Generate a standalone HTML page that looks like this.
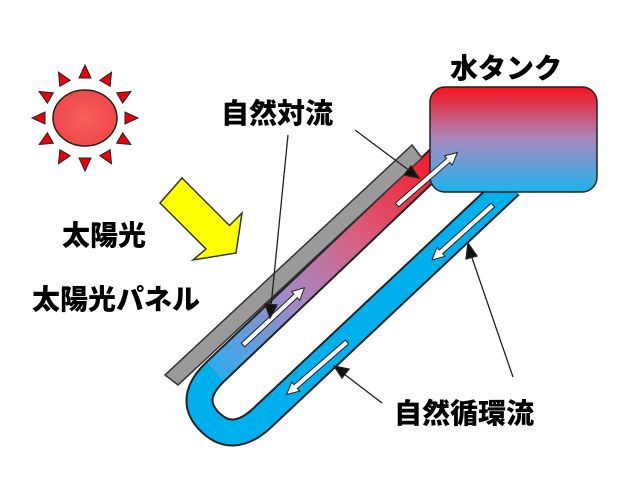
<!DOCTYPE html>
<html><head><meta charset="utf-8"><style>
html,body{margin:0;padding:0;background:#fff;}
svg{display:block;}
text{font-family:"Liberation Sans","Noto Sans CJK JP",sans-serif;font-weight:900;fill:#000;}
</style></head><body>
<svg width="640" height="480" viewBox="0 0 640 480" xmlns="http://www.w3.org/2000/svg">
<defs>
<linearGradient id="tg" x1="0" y1="0" x2="0" y2="1">
<stop offset="0" stop-color="#f8101c"/><stop offset="0.5" stop-color="#a88ac0"/><stop offset="1" stop-color="#1cb2ec"/>
</linearGradient>
<linearGradient id="ug" gradientUnits="userSpaceOnUse" x1="430" y1="160" x2="215" y2="375">
<stop offset="0" stop-color="#f41c2c"/><stop offset="0.35" stop-color="#d86080"/><stop offset="0.65" stop-color="#a08ac8"/><stop offset="1" stop-color="#2eacec"/>
</linearGradient>
<radialGradient id="sg"><stop offset="0" stop-color="#f86060"/><stop offset="1" stop-color="#f04848"/></radialGradient>
</defs>

<!-- sun -->
<g transform="translate(85,118)" fill="#e8000c" stroke="#222" stroke-width="1">
<g id="ray"><polygon points="-6,-40 6,-40 0,-53"/></g>
<use href="#ray" transform="rotate(30)"/><use href="#ray" transform="rotate(60)"/><use href="#ray" transform="rotate(90)"/>
<use href="#ray" transform="rotate(120)"/><use href="#ray" transform="rotate(150)"/><use href="#ray" transform="rotate(180)"/>
<use href="#ray" transform="rotate(210)"/><use href="#ray" transform="rotate(240)"/><use href="#ray" transform="rotate(270)"/>
<use href="#ray" transform="rotate(300)"/><use href="#ray" transform="rotate(330)"/>
<ellipse cx="0" cy="0" rx="32" ry="28" fill="url(#sg)" stroke="#222" stroke-width="1.5"/>
</g>

<!-- yellow arrow -->
<polygon points="182,178 229.5,225.5 242,213 236,253 193,260 206,249 160,203" fill="#ffff00" stroke="#333" stroke-width="1.5"/>

<!-- tube -->
<path d="M510,185 L262,418 Q232,446 208,420 Q188,398 215,372 L440,158" fill="none" stroke="#222" stroke-width="28" stroke-linejoin="round"/>
<path d="M510,185 L262,418 Q232,446 208,420 Q188,398 215,372" fill="none" stroke="#00b0ec" stroke-width="24"/>
<path d="M215,372 L440,158" fill="none" stroke="url(#ug)" stroke-width="24"/>

<!-- panel -->
<polygon points="412,145 422,158 178,385 165,375" fill="#9a9a9a" stroke="#333" stroke-width="1.5"/>

<!-- tank -->
<rect x="430" y="87" width="167" height="105" rx="15" fill="url(#tg)" stroke="#222" stroke-width="1.5"/>

<!-- white flow arrows -->
<g fill="#fff" stroke="#222" stroke-width="1">
<g transform="translate(397,205) rotate(-41)"><polygon points="0,-2.5 68,-2.5 68,-6 80,0 68,6 68,2.5 0,2.5"/></g>
<g transform="translate(243,345) rotate(-43)"><polygon points="0,-2.5 72,-2.5 72,-6 84,0 72,6 72,2.5 0,2.5"/></g>
<g transform="translate(493,205) rotate(138)"><polygon points="0,-2.5 70,-2.5 70,-6 82,0 70,6 70,2.5 0,2.5"/></g>
<g transform="translate(347,342) rotate(139)"><polygon points="0,-2.5 68,-2.5 68,-6 80,0 68,6 68,2.5 0,2.5"/></g>
</g>

<!-- pointer lines -->
<g stroke="#222" stroke-width="1.3" fill="#111">
<line x1="288" y1="135" x2="271" y2="306"/><polygon points="270,318 265,304 277,305"/>
<line x1="355" y1="130" x2="410" y2="171"/><polygon points="419,178 404,175 411,166"/>
<line x1="513" y1="377" x2="471" y2="255"/><polygon points="468,243 477,256 466,259"/>
<line x1="382" y1="403" x2="344" y2="374"/><polygon points="334,366 349,369 342,378"/>
</g>

<!-- labels -->
<text x="450" y="78" font-size="28">水タンク</text>
<text x="221" y="123" font-size="28">自然対流</text>
<text x="62" y="245" font-size="28">太陽光</text>
<text x="32" y="309" font-size="28">太陽光パネル</text>
<text x="394" y="423" font-size="28">自然循環流</text>
</svg>
</body></html>
